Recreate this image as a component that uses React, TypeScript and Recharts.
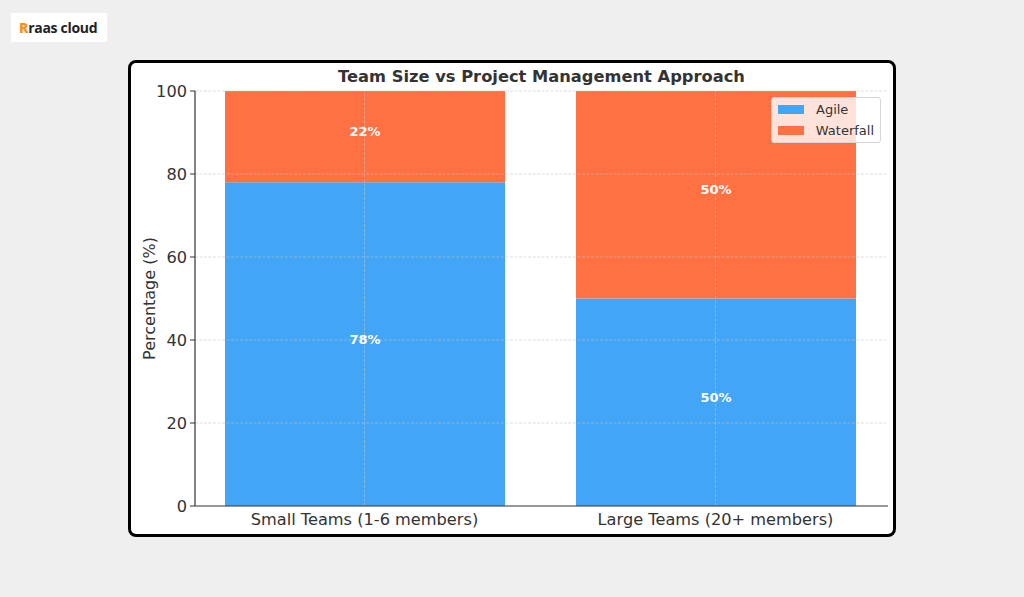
import React from 'react';
import { BarChart, Bar, XAxis, YAxis, LabelList, ReferenceLine } from 'recharts';

const categories = ['Small Teams (1-6 members)', 'Large Teams (20+ members)'];
const agile = [78, 50];
const waterfall = [22, 50];
const yTicks = [0, 20, 40, 60, 80, 100];
const seriesNames = ['Agile', 'Waterfall'];
const colors = ['#42A5F5', '#FF7043'];

const data = categories.map((c, i) => ({ name: c, agile: agile[i], waterfall: waterfall[i] }));

const FONT = '"DejaVu Sans", sans-serif';

const LegendBox = () => (
  <div
    style={{
      position: 'absolute', left: 771, top: 97,
      border: '1px solid #d6d6d6',
      borderRadius: 3,
      background: 'rgba(255,255,255,0.8)',
      padding: '1px 6px 1px 6px',
      fontFamily: FONT,
      fontSize: 13,
      color: '#333',
      width: 96,
      boxSizing: 'content-box',
    }}
  >
    {seriesNames.map((n, i) => (
      <div key={n} style={{ display: 'flex', alignItems: 'center', height: 21 }}>
        <span style={{ display: 'inline-block', width: 26, height: 9, background: colors[i], marginRight: 12 }} />
        <span>{n}</span>
      </div>
    ))}
  </div>
);

export default function App() {
  return (
    <div style={{ position: 'fixed', left: 0, top: 0, width: 1024, height: 597, background: '#efefef', overflow: 'hidden' }}>
      <div
        style={{
          position: 'absolute', left: 11, top: 13, width: 96, height: 29, background: '#fff',
          display: 'flex', alignItems: 'center', fontFamily: '"Open Sans", sans-serif', fontWeight: 700, fontSize: 14,
          color: '#222', letterSpacing: -0.3,
        }}
      >
        <span style={{ color: '#f7931e', marginLeft: 8, fontWeight: 800 }}>R</span>
        <span>raas cloud</span>
      </div>
      <div
        style={{
          position: 'absolute', left: 128, top: 60, width: 762, height: 471,
          border: '3px solid #000', borderRadius: 8, background: '#fff',
        }}
      />
      <div
        style={{
          position: 'absolute', left: 195, width: 693, top: 67, textAlign: 'center',
          fontFamily: FONT, fontWeight: 700, fontSize: 16.3, color: '#333',
        }}
      >
        Team Size vs Project Management Approach
      </div>
      <div style={{ position: 'absolute', left: 0, top: 0 }}>
        <BarChart
          width={1024}
          height={597}
          data={data}
          margin={{ top: 91, right: 136, bottom: 61, left: 145 }}
          style={{ fontFamily: FONT }}
        >
          <XAxis
            dataKey="name"
            height={30}
            tickLine={false}
            padding={{ left: -6, right: -3 }}
            axisLine={{ stroke: '#333', strokeWidth: 1.2 }}
            tick={{ fontSize: 16.2, fill: '#333', fontFamily: FONT }}
            tickMargin={1}
          />
          <YAxis
            width={50}
            domain={[0, 100]}
            ticks={yTicks}
            tickSize={5}
            tickLine={{ stroke: '#333' }}
            axisLine={{ stroke: '#333', strokeWidth: 1.2 }}
            tick={{ fontSize: 16.2, fill: '#333', fontFamily: FONT }}
            tickMargin={3}
            label={{ value: 'Percentage (%)', angle: -90, position: 'left', offset: -4, fontSize: 16, fill: '#333', fontFamily: FONT, style: { textAnchor: 'middle' } }}
          />
          <Bar dataKey="agile" name={seriesNames[0]} stackId="a" fill={colors[0]} barSize={280} isAnimationActive={false}>
            <LabelList dataKey="agile" position="center" dy={-5} formatter={(v: number) => `${v}%`} fill="#fff" fontWeight={700} fontSize={13} fontFamily={FONT} />
          </Bar>
          <Bar dataKey="waterfall" name={seriesNames[1]} stackId="a" fill={colors[1]} barSize={280} isAnimationActive={false}>
            <LabelList dataKey="waterfall" position="center" dy={-5} formatter={(v: number) => `${v}%`} fill="#fff" fontWeight={700} fontSize={13} fontFamily={FONT} />
          </Bar>
          {yTicks.slice(1).map((t) => (
            <ReferenceLine key={t} y={t} stroke="#c4c4c4" strokeOpacity={0.7} strokeWidth={0.8} strokeDasharray="3 1.5" />
          ))}
          {categories.map((c) => (
            <ReferenceLine key={c} x={c} stroke="#c4c4c4" strokeOpacity={0.7} strokeWidth={0.8} strokeDasharray="3 1.5" />
          ))}
        </BarChart>
      </div>
      <LegendBox />
    </div>
  );
}
